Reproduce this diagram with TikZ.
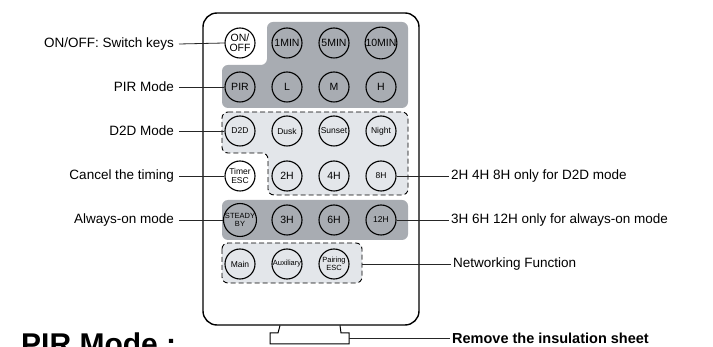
\documentclass[tikz,border=0pt]{standalone}
\usepackage{fontspec}
\setmainfont{Liberation Sans}
\definecolor{grpdark}{RGB}{168,172,178}
\definecolor{grplight}{RGB}{227,230,234}
\begin{document}
\begin{tikzpicture}[x=1pt,y=-1pt,
  btn/.style={circle, draw, line width=1.1pt, minimum size=30pt, inner sep=0pt, align=center, font=\fontsize{10.5}{10.5}\selectfont},
  dk/.style={btn, fill=grpdark},
  lt/.style={btn, fill=grplight},
  wt/.style={btn, fill=white},
  small/.style={font=\fontsize{8.5}{9.5}\selectfont},
  tiny/.style={font=\fontsize{7.5}{8.5}\selectfont},
  lbl/.style={font=\fontsize{13.5}{16}\selectfont, inner sep=2pt},
  lead/.style={line width=0.8pt, black!85},
  darkgrp/.style={fill=grpdark, rounded corners=6pt},
  lightgrp/.style={fill=grplight, draw, dashed, line width=0.9pt, dash pattern=on 5pt off 3pt, rounded corners=6pt}]
\clip (0,0) rectangle (713,347);
\useasboundingbox (0,0) rectangle (713,347);
\fill[white] (0,0) rectangle (713,347);
% body
\draw[line width=1.4pt, rounded corners=14pt] (203,13) rectangle (419,325);
% tab
\draw[line width=1pt] (280,325.5) -- (278,333) -- (270,333) -- (270,344) -- (349,344) -- (349,333) -- (341,333) -- (340,325.5);
\coordinate (tabE) at (349,338);
% groups
\path[darkgrp] (267,22) -- (408,22) -- (408,108) -- (222,108) -- (222,65) -- (267,65) -- cycle;
\path[lightgrp] (222,112) -- (408,112) -- (408,195) -- (268,195) -- (268,153) -- (222,153) -- cycle;
\path[darkgrp] (222,200) rectangle (408,240);
\path[lightgrp] (222,243) rectangle (362,283);
\coordinate (netE) at (362,264);
% buttons
\node[wt] (onoff) at (240,43) {ON/\\OFF};
\node[dk] (m1) at (287,43) {1MIN};
\node[dk] (m5) at (334,43) {5MIN};
\node[dk] (m10) at (381,43) {10MIN};
\node[dk] (pir) at (240,87) {PIR};
\node[dk] (l) at (287,87) {L};
\node[dk] (m) at (334,87) {M};
\node[dk] (h) at (381,87) {H};
\node[lt,small] (d2d) at (240,131) {D2D};
\node[lt,small] (dusk) at (287,131) {Dusk};
\node[lt,small] (sunset) at (334,131) {Sunset};
\node[lt,small] (night) at (381,131) {Night};
\node[wt,small] (timer) at (240,176) {Timer\\ESC};
\node[lt] (h2) at (287,176) {2H};
\node[lt] (h4) at (334,176) {4H};
\node[lt,small] (h8) at (381,176) {8H};
\node[dk,tiny] (steady) at (240,220) {STEADY\\BY};
\node[dk] (h3) at (287,220) {3H};
\node[dk] (h6) at (334,220) {6H};
\node[dk,small] (h12) at (381,220) {12H};
\node[lt,small] (main) at (240,264) {Main};
\node[lt,tiny] (aux) at (287,264) {Auxiliary};
\node[lt,tiny] (pair) at (334,264) {Pairing\\ESC};
% left labels
\node[lbl, anchor=east] (lonoff) at (176,44) {ON/OFF: Switch keys};
\node[lbl, anchor=east] (lpir) at (176,87) {PIR Mode};
\node[lbl, anchor=east] (ld2d) at (176,131) {D2D Mode};
\node[lbl, anchor=east] (ltimer) at (176,176) {Cancel the timing};
\node[lbl, anchor=east] (lsteady) at (176,220) {Always-on mode};
\draw[lead] (lonoff.east) ++(3,0) -- (onoff.west);
\draw[lead] (lpir.east) ++(3,0) -- (pir.west);
\draw[lead] (ld2d.east) ++(3,0) -- (d2d.west);
\draw[lead] (ltimer.east) ++(3,0) -- (timer.west);
\draw[lead] (lsteady.east) ++(3,0) -- (steady.west);
% right labels
\node[lbl, anchor=west] (l8h) at (449,176) {2H 4H 8H only for D2D mode};
\node[lbl, anchor=west] (l12h) at (449,220) {3H 6H 12H only for always-on mode};
\node[lbl, anchor=west] (lnet) at (451,264) {Networking Function};
\node[lbl, anchor=west, font=\fontsize{14.5}{16}\selectfont\bfseries] (lrem) at (450,338) {Remove the insulation sheet};
\draw[lead] (h8.east) -- (l8h.west);
\draw[lead] (h12.east) -- (l12h.west);
\draw[lead] (netE) -- (lnet.west);
\draw[lead] (tabE) -- (lrem.west);
% bottom heading (cut off by the lower edge, as in the reference)
\node[anchor=base west, inner sep=0pt, font=\fontsize{30}{34}\selectfont\bfseries] (head) at (21,355) {PIR Mode :};
\end{tikzpicture}
\end{document}
